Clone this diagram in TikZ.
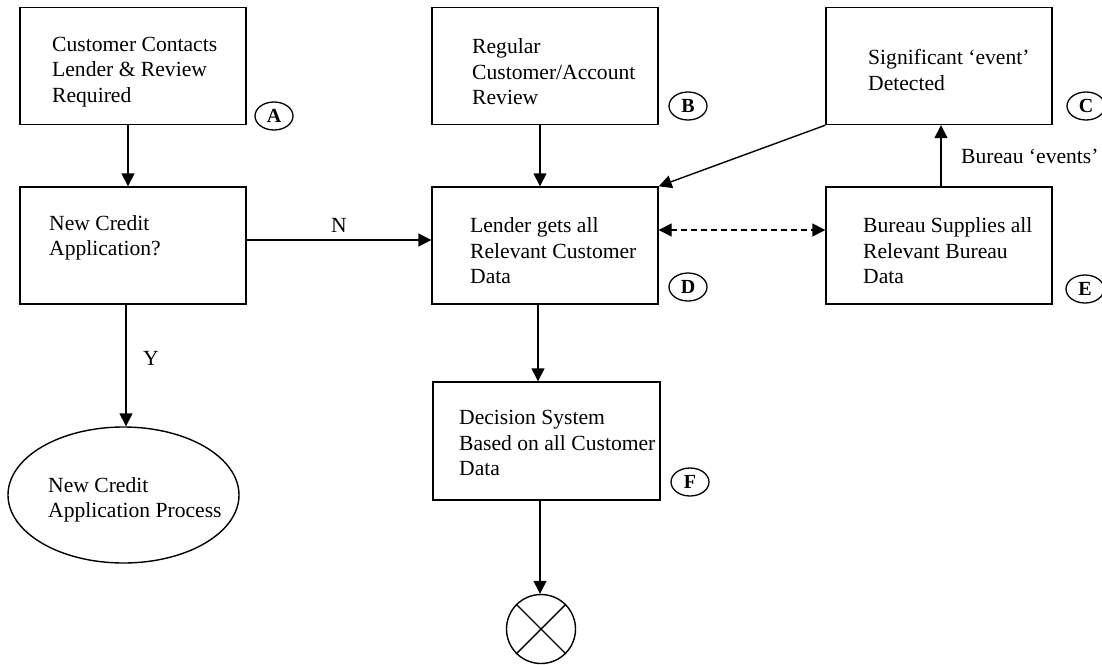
\documentclass[tikz,border=0pt]{standalone}
\usepackage{fontspec}
\setmainfont{Liberation Serif}
\usetikzlibrary{arrows.meta,shapes.geometric}
\begin{document}
\begin{tikzpicture}[x=1pt,y=-1pt,
  box/.style={draw,line width=1.4pt,minimum width=226pt,minimum height=117pt,inner sep=0pt},
  txt/.style={anchor=west,align=left,inner sep=0pt,font=\fontsize{21.6}{25.5}\selectfont},
  plain/.style={inner sep=0pt,font=\fontsize{21.6}{25.5}\selectfont},
  lbl/.style={draw,ellipse,line width=1.3pt,minimum width=38pt,minimum height=28pt,inner sep=0pt,font=\fontsize{20}{20}\selectfont\bfseries},
  arr/.style={line width=1.4pt,-{Triangle[length=13pt,width=13pt]}},
  darr/.style={line width=1.4pt,dash pattern=on 6pt off 4pt,{Triangle[length=13pt,width=13pt]}-{Triangle[length=13pt,width=13pt]}},
  ]
\useasboundingbox (0,0) rectangle (1102,664);
% boxes
\node[box] (A) at (133,66) {};
\node[box] (NC) at (133,245.5) {};
\node[box] (B) at (545,66) {};
\node[box] (D) at (545,245.5) {};
\node[box] (C) at (939,66) {};
\node[box] (E) at (939,245.5) {};
\node[box,minimum width=227pt,minimum height=118pt] (F) at (546.5,441) {};
\node[draw,ellipse,line width=1.4pt,minimum width=231pt,minimum height=136pt,inner sep=0pt] (P) at (123.5,495) {};
\node[draw,circle,line width=1.4pt,minimum size=69pt,inner sep=0pt] (X) at (541,629) {};
\draw[line width=1.4pt] (X.north west) -- (X.south east);
\draw[line width=1.4pt] (X.north east) -- (X.south west);
% texts
\node[txt] (tA) at (52,72) {Customer Contacts\\Lender \& Review\\Required};
\node[txt] (tNC) at (49,238) {New Credit\\Application?};
\node[txt] (tP) at (48,500) {New Credit\\Application Process};
\node[txt] (tB) at (472,72) {Regular\\Customer/Account\\Review};
\node[txt] (tD) at (470,251) {Lender gets all\\Relevant Customer\\Data};
\node[txt] (tC) at (868,70) {Significant ‘event’\\Detected};
\node[txt] (tE) at (863,251) {Bureau Supplies all\\Relevant Bureau\\Data};
\node[txt] (tF) at (459,443) {Decision System\\Based on all Customer\\Data};
% labels
\node[lbl] (lA) at (274,116) {A};
\node[lbl] (lB) at (688,106) {B};
\node[lbl] (lC) at (1086,106) {C};
\node[lbl] (lD) at (688,287) {D};
\node[lbl] (lE) at (1085,289) {E};
\node[lbl] (lF) at (690,482) {F};
% connectors
\draw[arr] ([xshift=-5pt]A.south) -- ([xshift=-5pt]NC.north);
\draw[arr] ([xshift=-7pt]NC.south) -- ([xshift=-7pt]NC.south |- P.north);
\draw[arr] ([yshift=5.5pt]NC.east) -- node[plain,above=7pt] (N) {N} ([yshift=5.5pt]D.west);
\node[plain] (Y) at (151,358) {Y};
\draw[arr] ([xshift=-5pt]B.south) -- ([xshift=-5pt]D.north);
\draw[arr] (C.south west) -- (D.north east);
\draw[darr] ([yshift=15.5pt]D.east) -- ([yshift=15.5pt]E.west);
\draw[arr] ([xshift=2pt]E.north) -- ([xshift=2pt]C.south);
\node[plain,anchor=west] (ev) at (961,156) {Bureau ‘events’};
\draw[arr] ([xshift=-7pt]D.south) -- ([xshift=-8.5pt]F.north);
\draw[arr] ([xshift=-6.5pt]F.south) -- ([xshift=-6.5pt]F.south |- X.north);
\end{tikzpicture}
\end{document}
